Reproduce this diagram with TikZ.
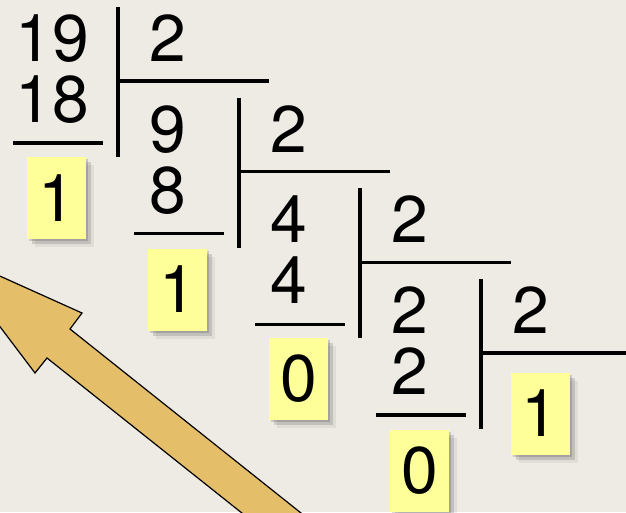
\documentclass[tikz,border=0pt]{standalone}
\usepackage{fontspec}
\setmainfont{TeX Gyre Heros}
\definecolor{paper}{RGB}{238,235,228}
\definecolor{note}{RGB}{255,255,153}
\definecolor{tan}{RGB}{228,190,105}
\usetikzlibrary{shadows}

\begin{document}
\begin{tikzpicture}[x=1pt,y=-1pt,
    digit/.style={font=\fontsize{66}{78}\selectfont, anchor=base, inner sep=0pt},
    rembox/.style={fill=note, minimum width=59pt, minimum height=82pt, inner sep=0pt,
      font=\fontsize{66}{78}\selectfont,
      drop shadow={shadow xshift=2pt, shadow yshift=-2pt, fill=black, opacity=0.15},
      drop shadow={shadow xshift=5pt, shadow yshift=-5pt, fill=black, opacity=0.13},
      drop shadow={shadow xshift=8pt, shadow yshift=-8pt, fill=black, opacity=0.06}},
    bar/.style={line width=3.5pt}]
        \fill[paper] (0,0) rectangle (626,512);
        \useasboundingbox (0,0) rectangle (626,512);
        \begin{scope}
          \clip (0,0) rectangle (626,512);
          \draw[fill=tan, line width=1.2pt] (-58,250) -- (82,313) -- (70,329) -- (360,560)
            -- (301,560) -- (47,358) -- (35,373) -- cycle;
        \end{scope}
        \node[digit] (div0)  at (52.5,61.5) {19};
        \node[digit] (prod0) at (52.5,122) {18};
        \node[digit] (dvs0)  at (168,61.5) {2};
        \draw[bar] (118,7) -- (118,157);
        \draw[bar] (118,81) -- (269,81);
        \draw[bar] (13,143) -- (103,143);
        \node[rembox] (rem0) at (56.5,198) {1};
        \node[digit] (div1)  at (168,152) {9};
        \node[digit] (prod1) at (168,213) {8};
        \node[digit] (dvs1)  at (289,152) {2};
        \draw[bar] (239,97.7) -- (239,247.7);
        \draw[bar] (239,171.7) -- (390,171.7);
        \draw[bar] (134,233.7) -- (224,233.7);
        \node[rembox] (rem1) at (177.5,289.5) {1};
        \node[digit] (div2)  at (289,242.7) {4};
        \node[digit] (prod2) at (289,303.7) {4};
        \node[digit] (dvs2)  at (410,242.7) {2};
        \draw[bar] (360,188.4) -- (360,338.4);
        \draw[bar] (360,262.4) -- (511,262.4);
        \draw[bar] (255,324.4) -- (345,324.4);
        \node[rembox] (rem2) at (298.5,379) {0};
        \node[digit] (div3)  at (410,333) {2};
        \node[digit] (prod3) at (410,394) {2};
        \node[digit] (dvs3)  at (531,333) {2};
        \draw[bar] (481,279.1) -- (481,429.1);
        \draw[bar] (481,353.1) -- (626,353.1);
        \draw[bar] (376,415.1) -- (466,415.1);
        \node[rembox] (rem3) at (419.5,470.5) {0};
        \node[rembox] (quo)  at (540,413.5) {1};
      \end{tikzpicture}
\end{document}
